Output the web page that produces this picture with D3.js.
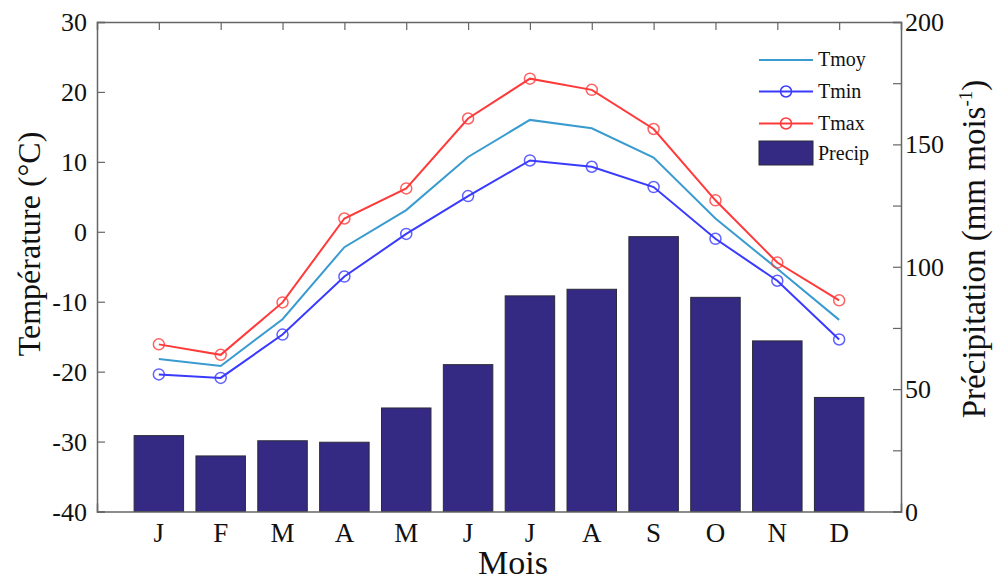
<!DOCTYPE html>
<html>
<head>
<meta charset="utf-8">
<script src="https://cdn.jsdelivr.net/npm/d3@7"></script>
<style>
  body { margin: 0; background: #fff; }
  text { font-family: "Liberation Serif", "Times New Roman", serif; fill: #111; }
</style>
</head>
<body>
<svg id="chart"></svg>
<script>
months = ["J", "F", "M", "A", "M", "J", "J", "A", "S", "O", "N", "D"]
tmoy = [-18.2, -19.2, -12.5, -2.2, 3.1, 10.7, 16.0, 14.8, 10.6, 1.9, -5.3, -12.6]
tmin = [-20.4, -20.9, -14.7, -6.4, -0.3, 5.1, 10.2, 9.3, 6.4, -1.0, -7.0, -15.4]
tmax = [-16.1, -17.6, -10.1, 1.9, 6.2, 16.2, 21.9, 20.3, 14.7, 4.5, -4.4, -9.8]
precip = [31, 22.7, 28.9, 28.3, 42.3, 60, 88.1, 90.8, 112.3, 87.5, 69.7, 46.6]
tempTicks = [-40, -30, -20, -10, 0, 10, 20, 30]
precipTicks = [0, 50, 100, 150, 200]

let width = 997, height = 580;
let padLeft = 97, padRight = 901, padTop = 22, padBottom = 511.5;

let svg = d3.select("#chart").attr("width", width).attr("height", height);

// MATLAB style: bars at 1..12, xlim [0 13]
let xScale = d3.scaleLinear().domain([0, 13]).range([padLeft, padRight]);
let yTemp = d3.scaleLinear().domain([-40, 30]).range([padBottom, padTop]);
let yPrec = d3.scaleLinear().domain([0, 200]).range([padBottom, padTop]);
let barW = (xScale(1) - xScale(0)) * 0.8;

let axisColor = "#666";

// bars
svg.append("g").selectAll("rect")
    .data(precip)
    .enter().append("rect")
    .attr("x", (d, i) => xScale(i + 1) - barW / 2)
    .attr("y", d => yPrec(d))
    .attr("width", barW)
    .attr("height", d => yPrec(0) - yPrec(d))
    .attr("fill", "#352a83")
    .attr("stroke", "#2a2a3a")
    .attr("stroke-width", 1);

// lines
let line = d3.line()
    .x((d, i) => xScale(i + 1))
    .y(d => yTemp(d));

let series = [
    { name: "Tmoy", values: tmoy, color: "#3a9bd0", marker: false },
    { name: "Tmin", values: tmin, color: "#3a3aff", marker: true },
    { name: "Tmax", values: tmax, color: "#ff3a3a", marker: true }
];

series.forEach(s => {
    svg.append("path")
        .datum(s.values)
        .attr("fill", "none")
        .attr("stroke", s.color)
        .attr("stroke-width", 2)
        .attr("d", line);
    if (s.marker) {
        svg.append("g").selectAll("circle")
            .data(s.values)
            .enter().append("circle")
            .attr("cx", (d, i) => xScale(i + 1))
            .attr("cy", d => yTemp(d))
            .attr("r", 5.5)
            .attr("fill", "none")
            .attr("stroke", s.color)
            .attr("stroke-opacity", 0.8)
            .attr("stroke-width", 1.5);
    }
});

// axes
let monthIdx = d3.range(1, 13);

let gLeft = svg.append("g").attr("transform", "translate(" + padLeft + ",0)")
    .call(d3.axisRight(yTemp).tickValues(tempTicks).tickSize(8).tickFormat(""));
let gRight = svg.append("g").attr("transform", "translate(" + padRight + ",0)")
    .call(d3.axisLeft(yPrec).tickValues(d3.range(0, 201, 25)).tickSize(8).tickFormat(""));
let gTop = svg.append("g").attr("transform", "translate(0," + padTop + ")")
    .call(d3.axisBottom(xScale).tickValues(monthIdx).tickSize(8).tickFormat(""));
let gBottom = svg.append("g").attr("transform", "translate(0," + padBottom + ")")
    .call(d3.axisTop(xScale).tickValues(monthIdx).tickSize(8).tickFormat(""));

[gLeft, gRight, gTop, gBottom].forEach(g => {
    g.select(".domain").attr("stroke", axisColor).attr("stroke-width", 1.5);
    g.selectAll(".tick line").attr("stroke", axisColor).attr("stroke-width", 1.2);
});
// bottom month ticks sit under the bars, like in the original
gBottom.selectAll(".tick line").remove();

// tick labels
svg.append("g").selectAll("text")
    .data(tempTicks)
    .enter().append("text")
    .attr("x", padLeft - 10)
    .attr("y", d => yTemp(d))
    .attr("dy", "0.35em")
    .attr("text-anchor", "end")
    .attr("font-size", 26)
    .text(d => d);

svg.append("g").selectAll("text")
    .data(precipTicks)
    .enter().append("text")
    .attr("x", padRight + 4)
    .attr("y", d => yPrec(d))
    .attr("dy", "0.35em")
    .attr("text-anchor", "start")
    .attr("font-size", 26)
    .text(d => d);

svg.append("g").selectAll("text")
    .data(months)
    .enter().append("text")
    .attr("x", (d, i) => xScale(i + 1))
    .attr("y", 542)
    .attr("text-anchor", "middle")
    .attr("font-size", 27)
    .text(d => d);

// axis titles
svg.append("text")
    .attr("x", 513)
    .attr("y", 574)
    .attr("text-anchor", "middle")
    .attr("font-size", 34)
    .text("Mois");

svg.append("text")
    .attr("transform", "translate(40,244) rotate(-90)")
    .attr("text-anchor", "middle")
    .attr("font-size", 32)
    .text("Température (°C)");

let rt = svg.append("text")
    .attr("transform", "translate(985,249) rotate(-90)")
    .attr("text-anchor", "middle")
    .attr("font-size", 33);
rt.append("tspan").text("Précipitation (mm mois");
rt.append("tspan").attr("font-size", 19).attr("dy", -13).text("-1");
rt.append("tspan").attr("dy", 13).text(")");

// legend
let leg = svg.append("g");
let legX0 = 759, legX1 = 813;
let legRows = [
    { name: "Tmoy", y: 60 },
    { name: "Tmin", y: 91.5 },
    { name: "Tmax", y: 123.5 }
];
legRows.forEach((r, i) => {
    let s = series[i];
    leg.append("line")
        .attr("x1", legX0).attr("x2", legX1)
        .attr("y1", r.y).attr("y2", r.y)
        .attr("stroke", s.color).attr("stroke-width", 2);
    if (s.marker) {
        leg.append("circle")
            .attr("cx", (legX0 + legX1) / 2).attr("cy", r.y).attr("r", 5.5)
            .attr("fill", "none").attr("stroke", s.color).attr("stroke-width", 1.5);
    }
    leg.append("text")
        .attr("x", 818).attr("y", r.y)
        .attr("dy", "0.3em")
        .attr("font-size", 20)
        .text(r.name);
});
leg.append("rect")
    .attr("x", legX0).attr("y", 141)
    .attr("width", legX1 - legX0).attr("height", 24)
    .attr("fill", "#352a83").attr("stroke", "#2a2a3a");
leg.append("text")
    .attr("x", 818).attr("y", 154)
    .attr("dy", "0.3em")
    .attr("font-size", 20)
    .text("Precip");
</script>
</body>
</html>
